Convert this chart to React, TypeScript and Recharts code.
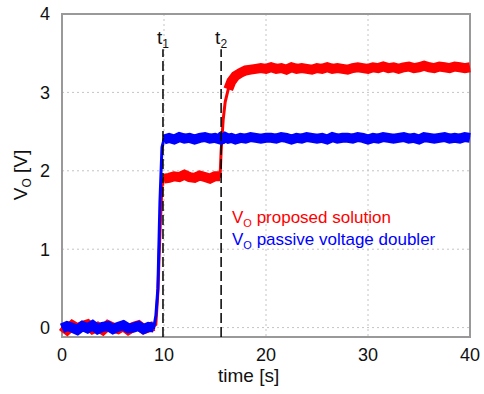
import { LineChart, Line, XAxis, YAxis, CartesianGrid, ReferenceLine, ReferenceArea, Customized } from 'recharts'

// time axis [s]
const time = [
  0, 0.5, 1, 1.5, 2, 2.5, 3, 3.5, 4, 4.5, 5, 5.5, 6, 6.5, 7, 7.5, 8, 8.5, 9,
  9.2, 9.4, 9.6, 9.8, 10,
  10.5, 11, 11.5, 12, 12.5, 13, 13.5, 14, 14.5, 15, 15.5,
  15.6, 15.8, 16, 16.3, 16.6, 17, 17.5, 18, 18.5, 19, 19.5, 20,
  20.5, 21, 21.5, 22, 22.5, 23, 23.5, 24, 24.5, 25, 25.5, 26, 26.5, 27, 27.5, 28, 28.5, 29, 29.5, 30,
  30.5, 31, 31.5, 32, 32.5, 33, 33.5, 34, 34.5, 35, 35.5, 36, 36.5, 37, 37.5, 38, 38.5, 39, 39.5, 40,
]

// Vo proposed solution [V]
const vProposed = [
  0.02, -0.03, 0.03, -0.01, 0.02, 0.04, -0.02, 0.01, -0.03, 0.03, 0.0, -0.02, 0.02, -0.03, 0.01, 0.03, -0.02, 0.0, 0.02,
  0.04, 0.45, 1.2, 1.8, 1.9,
  1.91, 1.93, 1.92, 1.95, 1.92, 1.91, 1.94, 1.92, 1.9, 1.93, 1.93,
  2.25, 2.65, 2.88, 3.04, 3.14, 3.21, 3.25, 3.28, 3.29, 3.3, 3.31, 3.3,
  3.32, 3.3, 3.31, 3.29, 3.32, 3.3, 3.31, 3.3, 3.29, 3.31, 3.3, 3.32, 3.3, 3.31, 3.3, 3.29, 3.31, 3.32, 3.31, 3.3,
  3.32, 3.31, 3.33, 3.31, 3.32, 3.3, 3.32, 3.33, 3.31, 3.32, 3.34, 3.32, 3.31, 3.33, 3.32, 3.31, 3.33, 3.32, 3.31, 3.32,
]

// Vo passive voltage doubler [V]
const vDoubler = [
  -0.01, 0.02, 0.0, -0.03, 0.02, -0.01, 0.03, -0.02, 0.01, 0.02, -0.02, 0.01, 0.03, -0.01, 0.0, 0.02, -0.02, 0.01, 0.0,
  0.15, 0.5, 1.6, 2.3, 2.4,
  2.42, 2.4, 2.43, 2.41, 2.42, 2.4, 2.42, 2.43, 2.41, 2.42, 2.4,
  2.42, 2.41, 2.43, 2.41, 2.42, 2.4, 2.42, 2.41, 2.43, 2.42, 2.41, 2.42,
  2.42, 2.41, 2.43, 2.42, 2.4, 2.42, 2.41, 2.43, 2.42, 2.41, 2.42, 2.4, 2.43, 2.41, 2.42, 2.42, 2.41, 2.43, 2.42, 2.4,
  2.42, 2.41, 2.43, 2.42, 2.41, 2.42, 2.43, 2.41, 2.42, 2.4, 2.43, 2.42, 2.41, 2.42, 2.43, 2.41, 2.42, 2.41, 2.43, 2.42,
]

// switching transients (no noise band drawn inside these windows)
const proposedSteps = [[9.0, 10.0], [15.5, 16.3]]
const doublerSteps = [[9.0, 10.0]]

const xTicks = [0, 10, 20, 30, 40]
const yTicks = [0, 1, 2, 3, 4]
const events = [
  { t: 9.9, label: '1' },
  { t: 15.6, label: '2' },
]

const inStep = (t: number, steps: number[][]) => steps.some(([a, b]) => t > a && t < b)

const data = time.map((t, i) => ({
  t,
  proposed: vProposed[i],
  doubler: vDoubler[i],
  proposedBand: inStep(t, proposedSteps) ? null : vProposed[i],
  doublerBand: inStep(t, doublerSteps) ? null : vDoubler[i],
}))

const font = 'Arial, "Liberation Sans", sans-serif'

function EventLabel({ viewBox, sub }: any) {
  return (
    <text x={viewBox.x - 6} y={viewBox.y - 5} fontSize={19} fontFamily={font} fill="#111">
      t<tspan fontSize={12} dy={4}>{sub}</tspan>
    </text>
  )
}

function Annotations() {
  return (
    <g fontFamily={font}>
      <text x={27} y={175} transform="rotate(-90 27 175)" textAnchor="middle" fontSize={19} fill="#111">
        V<tspan fontSize={12} dy={4}>O</tspan><tspan dy={-4}> [V]</tspan>
      </text>
      <text x={218} y={382} fontSize={19} fill="#111">time [s]</text>
      <text x={232} y={223} fontSize={17} fill="#ff0000">
        V<tspan fontSize={11} dy={4}>O</tspan><tspan dy={-4}> proposed solution</tspan>
      </text>
      <text x={232} y={245} fontSize={17} fill="#0000ff">
        V<tspan fontSize={11} dy={4}>O</tspan><tspan dy={-4}> passive voltage doubler</tspan>
      </text>
    </g>
  )
}

export default function App() {
  return (
    <div style={{ position: 'absolute', left: 0, top: 0, background: '#fff' }}>
      <LineChart width={484} height={394} data={data} margin={{ top: 14, right: 14, left: 0, bottom: 0 }}>
        <CartesianGrid stroke="#c4c4c4" strokeDasharray="2 3" />
        <XAxis
          dataKey="t"
          type="number"
          domain={[0, 40]}
          ticks={xTicks}
          height={57}
          axisLine={false}
          tickLine={false}
          tickSize={0}
          tickMargin={11}
          tick={{ fontSize: 18, fill: '#111', fontFamily: font }}
        />
        <YAxis
          type="number"
          domain={[-0.12, 4]}
          ticks={yTicks}
          allowDataOverflow
          width={62}
          axisLine={false}
          tickLine={false}
          tickSize={0}
          tickMargin={12}
          tick={{ fontSize: 18, fill: '#111', fontFamily: font }}
        />
        <Line dataKey="proposed" stroke="#ff0000" strokeWidth={3} dot={false} isAnimationActive={false} />
        <Line dataKey="proposedBand" stroke="#ff0000" strokeWidth={10} dot={false} isAnimationActive={false} />
        <Line dataKey="doubler" stroke="#0000ff" strokeWidth={3} dot={false} isAnimationActive={false} />
        <Line dataKey="doublerBand" stroke="#0000ff" strokeWidth={10} dot={false} isAnimationActive={false} />
        {events.map(e => (
          <ReferenceLine
            key={e.label}
            segment={[{ x: e.t, y: -0.12 }, { x: e.t, y: 3.55 }]}
            stroke="#000"
            strokeWidth={1.5}
            strokeDasharray="10 4"
            label={<EventLabel sub={e.label} />}
          />
        ))}
        <ReferenceArea x1={0} x2={40} y1={-0.12} y2={4} fill="none" stroke="#999" strokeWidth={2} />
        <Customized component={Annotations} />
      </LineChart>
    </div>
  )
}
